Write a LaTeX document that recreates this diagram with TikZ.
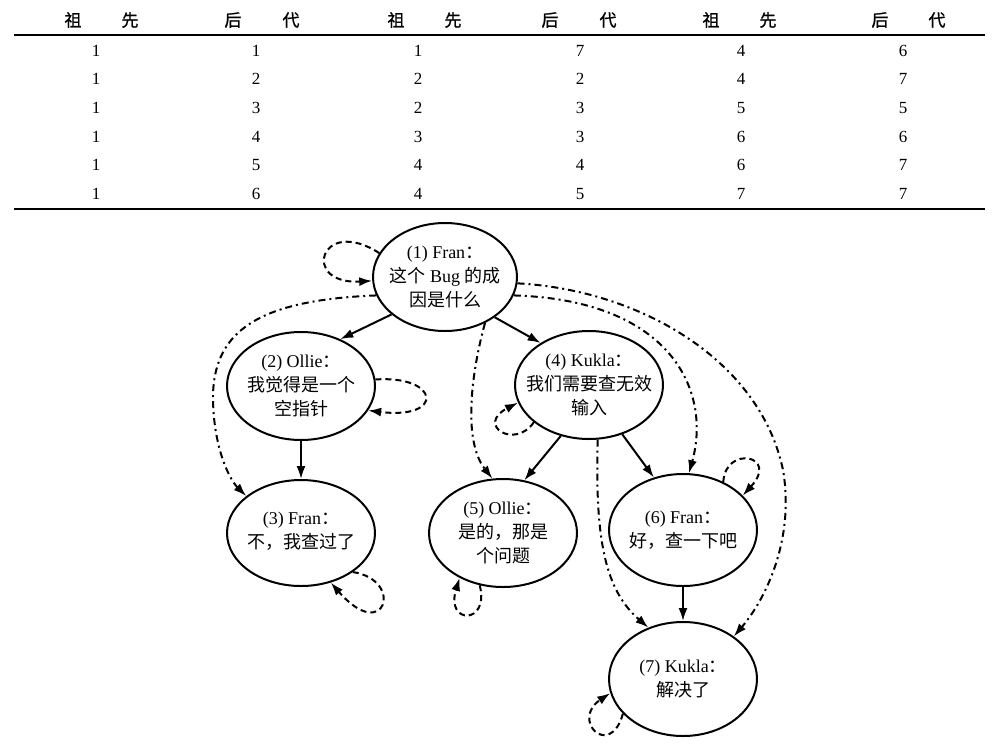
\documentclass[tikz,border=0pt]{standalone}
\usepackage{fontspec}
\setmainfont{Liberation Serif}
\newfontfamily\cjk{Noto Sans CJK SC}
\newfontfamily\cjkhead[FakeBold=1]{Noto Sans CJK SC}
\usetikzlibrary{arrows.meta,shapes.geometric}
\newcommand\zh[1]{{\cjk #1}}

\begin{document}
\begin{tikzpicture}[x=1pt,y=-1pt,
  talk/.style={draw, ellipse, line width=2pt, minimum width=148pt,
    minimum height=108pt, inner sep=0pt},
  txt/.style={align=center, inner sep=0pt, font=\fontsize{18}{24}\selectfont},
  head/.style={inner sep=0pt, font=\cjkhead\fontsize{17}{20}\selectfont},
  cell/.style={inner sep=0pt, font=\fontsize{17}{20}\selectfont},
  rule/.style={line width=1.6pt},
  link/.style={line width=2pt, -{Latex[length=13pt,width=9pt]}},
  jump/.style={link, dash pattern=on 7pt off 4pt on 2pt off 4pt},
  loop/.style={link, dash pattern=on 6pt off 4pt},
]
\useasboundingbox (0,0) rectangle (995,750);

% ---- table ----
\foreach \a/\b [count=\i] in {73/130,233/291,396/453,550/608,711/768,880/937}{
  \ifodd\i
    \node[head] (ha\i) at (\a,20) {祖};
    \node[head] (hb\i) at (\b,20) {先};
  \else
    \node[head] (ha\i) at (\a,20) {后};
    \node[head] (hb\i) at (\b,20) {代};
  \fi
}
\coordinate (rl1) at (14,35);  \coordinate (rr1) at (985,35);
\coordinate (rl2) at (14,209); \coordinate (rr2) at (985,209);
\draw[rule] (rl1) -- (rr1);
\draw[rule, line width=2pt] (rl2) -- (rr2);

\foreach \y/\va/\vb/\vc/\vd/\ve/\vf [count=\r] in {
   51/1/1/1/7/4/6,
   79/1/2/2/2/4/7,
  108/1/3/2/3/5/5,
  137/1/4/3/3/6/6,
  165/1/5/4/4/6/7,
  194/1/6/4/5/7/7}{
  \node[cell] (d\r-1) at (96,\y)  {\va};
  \node[cell] (d\r-2) at (256,\y) {\vb};
  \node[cell] (d\r-3) at (418,\y) {\vc};
  \node[cell] (d\r-4) at (580,\y) {\vd};
  \node[cell] (d\r-5) at (741,\y) {\ve};
  \node[cell] (d\r-6) at (903,\y) {\vf};
}

% ---- conversation graph ----
\node[talk, minimum width=144pt] (n1) at (445,277) {};
\node[talk] (n2) at (301,386) {};
\node[talk, minimum height=106pt] (n3) at (301,533) {};
\node[talk] (n4) at (589,385) {};
\node[talk] (n5) at (503,533) {};
\node[talk, minimum height=112pt] (n6) at (683,530) {};
\node[talk, minimum height=114pt] (n7) at (683,679) {};

\node[txt] (t1) at (n1) {(1) Fran\zh{：}\\\zh{这个} Bug \zh{的成}\\\zh{因是什么}};
\node[txt] (t2) at (n2) {(2) Ollie\zh{：}\\\zh{我觉得是一个}\\\zh{空指针}};
\node[txt] (t3) at ([yshift=2pt]n3) {(3) Fran\zh{：}\\\zh{不，我查过了}};
\node[txt] (t4) at (n4) {(4) Kukla\zh{：}\\\zh{我们需要查无效}\\\zh{输入}};
\node[txt] (t5) at (n5) {(5) Ollie\zh{：}\\\zh{是的，那是}\\\zh{个问题}};
\node[txt] (t6) at (n6) {(6) Fran\zh{：}\\\zh{好，查一下吧}};
\node[txt] (t7) at (n7) {(7) Kukla\zh{：}\\\zh{解决了}};

% direct replies
\draw[link] (n1.215) -- (n2.50);
\draw[link] (n1.321) -- (n4.139);
\draw[link] (n2.south) -- (n3.north);
\draw[link] (n4.241) -- (n5.68);
\draw[link] (n4.304) -- (n6.119);
\draw[link] (n6.south) -- (n7.north);

% longer reachability
\draw[jump] (n1.195) .. controls (260,300) and (212,330) .. (213,400)
            .. controls (214,450) and (230,480) .. (n3.146);
\draw[jump] (n1.311) .. controls (472,370) and (462,440) .. (n5.101);
\draw[jump] (n1.345) .. controls (670,300) and (712,390) .. (n6.84);
\draw[jump] (n1.355) .. controls (640,290) and (760,360) .. (783,470)
            .. controls (795,540) and (765,600) .. (n7.40);
\draw[jump] (n4.279) .. controls (595,540) and (605,590) .. (n7.124);

% self loops
\draw[loop] (n1.160) .. controls (320,215) and (300,285) .. (n1.183);
\draw[loop] (n2.5) .. controls (440,375) and (445,420) .. (n2.340);
\draw[loop] (n3.323) .. controls (405,580) and (385,645) .. (n3.301);
\draw[loop] (n4.214) .. controls (515,450) and (475,425) .. (n4.194);
\draw[loop] (n5.246) .. controls (490,625) and (445,625) .. (n5.226);
\draw[loop] (n6.50) .. controls (725,445) and (780,455) .. (n6.30);
\draw[loop] (n7.210) .. controls (610,760) and (570,720) .. (n7.191);
\end{tikzpicture}
\end{document}
